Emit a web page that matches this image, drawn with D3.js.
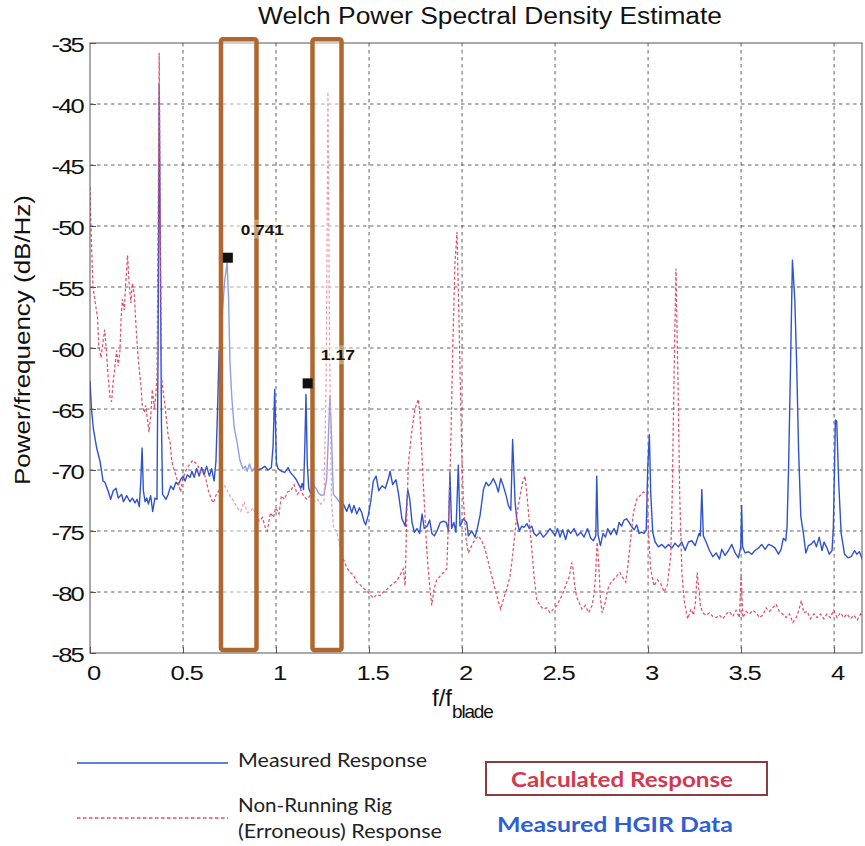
<!DOCTYPE html>
<html>
<head>
<meta charset="utf-8">
<script src="https://cdn.jsdelivr.net/npm/d3@7"></script>
<style>
  body { margin: 0; background: #fff; }
  svg { display: block; }
</style>
</head>
<body>
<svg id="chart" width="865" height="846"></svg>
<script>
// Measured blade response (solid blue): frequency ratio f/f_blade and PSD in dB/Hz
const measuredFreq = [
  0.000,0.008,0.018,0.036,0.054,0.070,0.080,0.097,0.111,0.125,0.140,0.152,0.170,0.180,0.197,0.215,0.228,0.242,0.253,0.265,
  0.273,0.280,0.287,0.296,0.305,0.314,0.326,0.337,0.349,0.360,0.366,0.372,0.378,0.384,0.390,0.409,0.420,0.434,0.448,0.462,
  0.475,0.487,0.500,0.511,0.523,0.538,0.548,0.560,0.573,0.587,0.600,0.613,0.627,0.642,0.654,0.667,0.677,0.685,0.694,0.702,
  0.712,0.724,0.737,0.745,0.752,0.762,0.775,0.789,0.806,0.822,0.835,0.845,0.857,0.871,0.885,0.903,0.921,0.939,0.957,0.975,
  0.984,0.993,1.002,1.011,1.029,1.047,1.065,1.077,1.095,1.109,1.122,1.133,1.141,1.148,1.155,1.161,1.168,1.176,1.186,1.200,
  1.215,1.229,1.244,1.258,1.272,1.281,1.290,1.299,1.308,1.326,1.344,1.362,1.380,1.394,1.407,1.419,1.434,1.448,1.461,1.473,
  1.482,1.496,1.509,1.523,1.538,1.552,1.570,1.588,1.606,1.613,1.627,1.645,1.658,1.677,1.695,1.708,1.719,1.731,1.744,1.758,
  1.772,1.785,1.797,1.812,1.826,1.838,1.851,1.865,1.883,1.901,1.915,1.927,1.935,1.944,1.956,1.967,1.980,1.989,2.007,2.025,
  2.034,2.052,2.070,2.082,2.097,2.115,2.129,2.142,2.154,2.168,2.183,2.195,2.208,2.222,2.237,2.249,2.262,2.272,2.285,2.294,
  2.308,2.321,2.333,2.348,2.362,2.375,2.387,2.401,2.419,2.437,2.455,2.473,2.487,2.500,2.513,2.527,2.541,2.557,2.570,2.584,
  2.602,2.620,2.638,2.656,2.674,2.692,2.706,2.719,2.724,2.731,2.744,2.758,2.771,2.783,2.799,2.817,2.831,2.844,2.857,2.871,
  2.885,2.898,2.910,2.925,2.939,2.952,2.964,2.978,2.990,2.998,3.007,3.014,3.025,3.038,3.056,3.074,3.092,3.110,3.128,3.145,
  3.163,3.181,3.199,3.217,3.235,3.253,3.274,3.281,3.289,3.297,3.312,3.330,3.348,3.366,3.384,3.396,3.414,3.432,3.450,3.468,
  3.486,3.498,3.503,3.508,3.522,3.540,3.557,3.575,3.593,3.611,3.629,3.647,3.665,3.683,3.701,3.715,3.727,3.740,3.747,3.755,
  3.767,3.776,3.789,3.799,3.809,3.821,3.834,3.848,3.862,3.875,3.893,3.905,3.920,3.935,3.946,3.959,3.974,3.989,3.996,4.007,
  4.014,4.025,4.038,4.056,4.074,4.092,4.110,4.122,4.136,4.154,4.163
];
const measuredPsd = [
  -62.7,-65.0,-66.6,-68.2,-69.3,-70.9,-71.0,-71.7,-72.4,-71.7,-71.5,-72.3,-72.0,-72.6,-72.1,-72.6,-72.3,-72.7,-72.4,-73.0,
  -70.9,-68.2,-71.7,-72.6,-72.3,-72.8,-72.1,-73.4,-72.3,-72.4,-60.0,-38.4,-52.0,-66.0,-72.0,-72.4,-72.0,-71.3,-71.6,-71.0,
  -71.2,-70.8,-70.5,-70.9,-70.4,-70.6,-70.1,-70.6,-69.9,-70.5,-69.8,-70.4,-69.7,-70.5,-69.9,-70.9,-69.3,-65.4,-60.2,-60.8,
  -57.0,-54.5,-53.0,-56.0,-61.0,-64.0,-66.5,-67.6,-69.2,-69.9,-69.7,-70.1,-69.5,-70.1,-69.8,-70.0,-69.9,-69.7,-70.0,-69.8,
  -68.1,-63.4,-69.4,-69.9,-70.1,-70.2,-69.8,-70.2,-70.5,-70.8,-71.2,-71.5,-71.1,-71.6,-68.0,-63.8,-69.5,-71.5,-71.9,-71.2,
  -71.5,-71.9,-72.1,-72.0,-70.8,-67.5,-63.9,-67.5,-72.0,-72.3,-72.7,-72.8,-73.4,-72.8,-73.5,-72.9,-73.6,-73.1,-73.5,-74.2,
  -74.5,-73.7,-72.6,-70.9,-70.5,-71.7,-71.3,-71.5,-70.6,-70.1,-71.2,-70.8,-71.9,-74.0,-74.6,-71.6,-72.4,-74.3,-75.1,-74.8,
  -75.2,-73.6,-74.8,-74.6,-74.1,-75.2,-75.4,-75.0,-74.3,-74.2,-74.3,-75.0,-70.2,-74.8,-74.3,-75.1,-69.6,-74.6,-74.0,-74.3,
  -75.4,-75.0,-75.5,-74.8,-73.7,-71.6,-71.0,-71.3,-71.1,-70.7,-71.2,-71.8,-70.7,-71.3,-72.1,-72.9,-73.3,-67.5,-72.6,-74.0,
  -75.0,-74.6,-74.7,-74.4,-74.8,-74.6,-75.2,-75.4,-75.1,-75.5,-75.2,-74.8,-75.1,-75.4,-74.8,-75.5,-74.9,-75.7,-74.9,-75.2,
  -74.8,-75.4,-75.1,-75.5,-74.8,-75.6,-75.8,-75.4,-70.5,-75.3,-76.2,-75.2,-75.5,-74.8,-75.3,-74.8,-75.3,-74.3,-74.6,-74.1,
  -74.0,-74.3,-74.6,-74.9,-74.5,-75.2,-75.1,-75.2,-74.9,-69.9,-67.1,-71.8,-75.1,-75.9,-76.3,-76.1,-76.4,-76.1,-76.4,-76.0,
  -76.3,-75.9,-76.6,-75.9,-75.8,-76.2,-75.2,-75.4,-71.6,-75.4,-75.9,-76.6,-77.1,-76.8,-77.3,-76.5,-77.0,-76.6,-76.1,-76.8,
  -77.2,-76.3,-72.9,-76.3,-76.8,-76.7,-76.9,-76.6,-76.4,-76.1,-76.5,-76.1,-76.2,-76.4,-76.9,-76.5,-75.6,-75.8,-74.7,-70.0,
  -60.5,-52.8,-56.1,-61.5,-68.3,-73.8,-75.1,-76.8,-76.2,-76.1,-75.8,-76.3,-75.5,-76.6,-75.9,-76.3,-76.9,-76.6,-74.7,-65.9,
  -66.0,-71.1,-75.2,-76.9,-77.2,-77.1,-76.6,-76.9,-76.7,-77.4,-78.2
];

// Non-running rig (erroneous) response (dashed red)
const rigFreq = [
  0.000,0.005,0.016,0.022,0.041,0.047,0.059,0.070,0.079,0.088,0.098,0.107,0.116,0.125,0.134,0.143,0.152,0.161,0.167,0.174,
  0.184,0.191,0.202,0.209,0.220,0.227,0.238,0.245,0.256,0.263,0.274,0.281,0.292,0.299,0.310,0.317,0.328,0.335,0.346,0.353,
  0.360,0.366,0.372,0.378,0.385,0.394,0.403,0.412,0.421,0.430,0.439,0.448,0.463,0.475,0.487,0.498,0.511,0.523,0.538,0.552,
  0.566,0.581,0.595,0.609,0.624,0.638,0.652,0.663,0.676,0.688,0.703,0.720,0.738,0.756,0.774,0.792,0.810,0.828,0.846,0.862,
  0.876,0.891,0.909,0.927,0.944,0.953,0.962,0.971,0.986,0.998,1.016,1.029,1.044,1.062,1.079,1.097,1.115,1.133,1.150,1.168,
  1.186,1.204,1.222,1.240,1.258,1.270,1.279,1.288,1.298,1.310,1.326,1.344,1.362,1.380,1.398,1.416,1.434,1.452,1.470,1.488,
  1.505,1.523,1.541,1.559,1.577,1.595,1.613,1.631,1.649,1.667,1.684,1.694,1.703,1.711,1.729,1.747,1.765,1.774,1.783,1.796,
  1.810,1.824,1.837,1.849,1.864,1.882,1.900,1.918,1.928,1.939,1.950,1.962,1.973,1.984,1.998,2.007,2.022,2.034,2.052,2.070,
  2.088,2.106,2.124,2.142,2.160,2.178,2.195,2.208,2.222,2.240,2.258,2.272,2.285,2.294,2.312,2.326,2.339,2.351,2.362,2.375,
  2.387,2.401,2.419,2.437,2.455,2.473,2.491,2.509,2.527,2.545,2.563,2.577,2.590,2.597,2.604,2.616,2.627,2.645,2.663,2.681,
  2.699,2.708,2.717,2.726,2.735,2.744,2.753,2.771,2.783,2.797,2.813,2.831,2.849,2.867,2.880,2.892,2.905,2.921,2.939,2.957,
  2.975,2.993,3.003,3.014,3.032,3.050,3.068,3.086,3.104,3.122,3.130,3.140,3.150,3.160,3.170,3.182,3.195,3.213,3.231,3.244,
  3.255,3.264,3.273,3.282,3.294,3.312,3.330,3.348,3.366,3.384,3.402,3.420,3.437,3.455,3.473,3.491,3.500,3.509,3.527,3.545,
  3.563,3.581,3.599,3.617,3.634,3.652,3.670,3.688,3.706,3.724,3.742,3.760,3.778,3.796,3.810,3.824,3.837,3.855,3.873,3.891,
  3.909,3.927,3.945,3.962,3.980,3.998,4.016,4.034,4.052,4.070,4.088,4.106,4.124,4.142,4.160
];
const rigPsd = [
  -46.8,-50.0,-55.0,-55.6,-57.6,-59.8,-60.8,-59.5,-58.5,-60.2,-62.4,-64.0,-64.4,-62.7,-61.5,-60.2,-61.5,-60.2,-57.6,-56.0,
  -56.9,-55.0,-52.4,-54.4,-56.3,-54.7,-55.6,-57.6,-60.2,-61.5,-63.1,-64.7,-65.3,-64.7,-66.0,-66.9,-65.3,-63.4,-65.0,-64.0,
  -62.4,-51.0,-35.8,-51.0,-62.4,-63.7,-64.7,-66.0,-67.3,-67.6,-69.2,-69.8,-70.5,-71.1,-71.8,-70.8,-70.2,-69.8,-69.5,-69.2,
  -69.4,-69.7,-70.2,-70.0,-70.8,-71.8,-72.4,-72.7,-72.1,-71.8,-71.5,-71.2,-71.7,-72.2,-72.6,-73.1,-73.4,-72.6,-73.5,-73.4,
  -73.1,-73.6,-74.2,-73.9,-74.8,-75.0,-74.2,-73.5,-73.9,-73.1,-73.6,-72.1,-72.4,-71.8,-71.7,-71.2,-72.0,-71.6,-72.2,-72.4,
  -72.0,-72.6,-72.4,-72.8,-72.5,-62.0,-39.0,-60.0,-72.5,-74.8,-75.0,-76.3,-77.3,-78.0,-78.4,-78.6,-79.2,-79.4,-79.7,-79.9,
  -80.2,-80.5,-80.2,-80.3,-80.0,-79.8,-79.5,-79.3,-79.1,-78.6,-78.1,-79.5,-73.7,-69.6,-66.9,-65.0,-64.2,-65.5,-68.3,-72.4,
  -76.5,-79.2,-81.1,-79.8,-79.0,-78.7,-78.4,-78.1,-73.7,-68.3,-60.0,-53.0,-50.5,-58.0,-68.3,-72.4,-75.7,-76.8,-76.2,-75.7,
  -75.4,-75.8,-76.5,-77.6,-78.7,-79.8,-80.8,-81.4,-80.6,-79.8,-78.7,-77.0,-75.1,-73.7,-72.1,-71.0,-70.5,-72.4,-74.3,-76.5,
  -78.7,-80.6,-81.1,-81.4,-81.3,-81.7,-81.4,-81.1,-80.6,-80.0,-79.2,-78.7,-77.6,-78.1,-79.3,-80.4,-80.8,-81.4,-81.1,-81.7,
  -81.1,-80.3,-78.9,-75.9,-77.8,-80.6,-81.7,-80.8,-79.8,-79.3,-79.0,-78.7,-78.4,-78.9,-79.2,-77.8,-75.9,-73.5,-72.4,-72.1,
  -71.8,-72.0,-75.4,-78.1,-79.5,-79.0,-79.3,-80.0,-79.4,-77.0,-72.0,-62.0,-53.5,-62.0,-72.0,-78.5,-80.8,-82.2,-81.4,-81.9,
  -80.8,-78.4,-79.8,-81.2,-81.7,-81.9,-81.7,-82.0,-82.1,-81.9,-82.2,-81.8,-81.6,-82.0,-81.5,-82.1,-78.5,-82.1,-81.6,-81.8,
  -81.5,-81.7,-82.1,-81.9,-81.3,-81.6,-81.3,-81.0,-81.6,-81.8,-82.1,-81.8,-82.5,-82.1,-81.5,-80.7,-81.7,-81.6,-82.2,-81.8,
  -82.1,-81.8,-82.2,-81.8,-82.1,-81.5,-82.1,-81.7,-82.1,-81.8,-82.2,-81.9,-82.3,-81.8,-82.0
];

// Axis ticks
const xTickValues = [0, 0.5, 1, 1.5, 2, 2.5, 3, 3.5, 4];
const xTickLabels = ["0", "0.5", "1", "1.5", "2", "2.5", "3", "3.5", "4"];
const yTickValues = [-35, -40, -45, -50, -55, -60, -65, -70, -75, -80, -85];

// Frequency bands of the calculated response (highlight boxes)
const calcBandStart = [0.704, 1.196];
const calcBandEnd = [0.895, 1.352];
const calcBandPsdRange = [-34.7, -84.75];

// Data cursor tips
const tipFreq = [0.741, 1.17];
const tipPsd = [-52.6, -62.9];
const tipLabels = ["0.741", "1.17"];

// Legend entries
const legendLines = [
  { lines: ["Measured Response"], color: "#2f52cf", dash: null },
  { lines: ["Non-Running Rig", "(Erroneous) Response"], color: "#e2506b", dash: "3,2.2" }
];

const svg = d3.select("#chart");
const x = d3.scaleLinear().domain([0, 4.15]).range([90, 862]);
const y = d3.scaleLinear().domain([-85, -35]).range([653, 43]);

const axisFont = "'Liberation Sans', Arial, Helvetica, sans-serif";
const legendFont = "Lato, 'Open Sans', sans-serif";

// clip for the traces
svg.append("clipPath").attr("id", "plotClip")
  .append("rect").attr("x", 90).attr("y", 43).attr("width", 772).attr("height", 610);

// grid
const grid = svg.append("g").attr("stroke", "#3a3a3a").attr("stroke-width", 0.8).attr("stroke-dasharray", "3.5,3.5");
grid.selectAll("line.gx").data(xTickValues.slice(1)).join("line")
  .attr("x1", d => x(d)).attr("x2", d => x(d)).attr("y1", y(-35)).attr("y2", y(-85));
grid.selectAll("line.gy").data(yTickValues.slice(1, -1)).join("line")
  .attr("y1", d => y(d)).attr("y2", d => y(d)).attr("x1", x(0)).attr("x2", 862);

// traces
const line = d3.line().x(d => x(d[0])).y(d => y(d[1]));
const measured = measuredFreq.map((f, i) => [f, measuredPsd[i]]);
const rig = rigFreq.map((f, i) => [f, rigPsd[i]]);
const traces = svg.append("g").attr("clip-path", "url(#plotClip)");
traces.append("path").datum(measured).attr("d", line)
  .attr("fill", "none").attr("stroke", legendLines[0].color).attr("stroke-width", 1.4)
  .attr("stroke-linejoin", "round");
traces.append("path").datum(rig).attr("d", line)
  .attr("fill", "none").attr("stroke", legendLines[1].color).attr("stroke-width", 1.25)
  .attr("stroke-dasharray", legendLines[1].dash);

// axes box
svg.append("rect").attr("x", x(0)).attr("y", y(-35)).attr("width", 862 - x(0)).attr("height", y(-85) - y(-35))
  .attr("fill", "none").attr("stroke", "#555").attr("stroke-width", 1);

// x axis
const xAxis = d3.axisBottom(x).tickValues(xTickValues).tickFormat((d, i) => xTickLabels[i])
  .tickSizeInner(-6).tickSizeOuter(0).tickPadding(0);
const gx = svg.append("g").attr("transform", `translate(0,${y(-85)})`).call(xAxis);
gx.select(".domain").remove();
gx.selectAll(".tick line").attr("stroke", "#555");
gx.selectAll(".tick text").text(null);
gx.selectAll(".tick").append("text")
  .attr("transform", "translate(3,27) scale(1.22,1)")
  .attr("text-anchor", "middle").attr("fill", "#111")
  .style("font-family", axisFont).style("font-size", "21px").style("letter-spacing", "-1px")
  .text((d, i) => xTickLabels[i]);

// y axis
const yAxis = d3.axisLeft(y).tickValues(yTickValues).tickSizeInner(-6).tickSizeOuter(0).tickPadding(0);
const gy = svg.append("g").attr("transform", `translate(${x(0)},0)`).call(yAxis);
gy.select(".domain").remove();
gy.selectAll(".tick line").attr("stroke", "#555");
gy.selectAll(".tick text").text(null);
gy.selectAll(".tick").append("text")
  .attr("transform", "translate(-7,8) scale(1.22,1)")
  .attr("text-anchor", "end").attr("fill", "#111")
  .style("font-family", axisFont).style("font-size", "21px").style("letter-spacing", "-1.5px")
  .text(d => d);

// calculated-response bands
svg.append("g").selectAll("rect").data(calcBandStart).join("rect")
  .attr("x", d => x(d))
  .attr("y", y(calcBandPsdRange[0]))
  .attr("width", (d, i) => x(calcBandEnd[i]) - x(d))
  .attr("height", y(calcBandPsdRange[1]) - y(calcBandPsdRange[0]))
  .attr("rx", 2)
  .attr("fill", "#fff").attr("fill-opacity", 0.45)
  .attr("stroke", "#b0672f").attr("stroke-width", 4.5);

// data tips
const tips = svg.append("g");
tips.selectAll("rect.tipbg").data(tipFreq).join("rect")
  .attr("x", d => x(d) + 10).attr("y", (d, i) => y(tipPsd[i]) - 38)
  .attr("width", (d, i) => tipLabels[i].length * 9 + 6).attr("height", 19)
  .attr("fill", "#fffbe6").attr("fill-opacity", 0.35);
tips.selectAll("rect.marker").data(tipFreq).join("rect")
  .attr("x", d => x(d) - 5).attr("y", (d, i) => y(tipPsd[i]) - 5)
  .attr("width", 10).attr("height", 10).attr("fill", "#111");
tips.selectAll("text").data(tipFreq).join("text")
  .attr("x", d => x(d) + 13).attr("y", (d, i) => y(tipPsd[i]) - 23)
  .attr("textLength", (d, i) => tipLabels[i].length * 8.6)
  .attr("lengthAdjust", "spacingAndGlyphs")
  .attr("fill", "#151515")
  .style("font-family", axisFont).style("font-size", "15px").style("font-weight", "bold")
  .text((d, i) => tipLabels[i]);

// title
svg.append("text").attr("x", 490).attr("y", 24).attr("text-anchor", "middle")
  .attr("textLength", 464).attr("lengthAdjust", "spacingAndGlyphs")
  .style("font-family", axisFont).style("font-size", "23px").attr("fill", "#111")
  .text("Welch Power Spectral Density Estimate");

// y label
svg.append("text").attr("transform", "translate(30,340) rotate(-90)").attr("text-anchor", "middle")
  .attr("textLength", 290).attr("lengthAdjust", "spacingAndGlyphs")
  .style("font-family", axisFont).style("font-size", "22px").attr("fill", "#111")
  .text("Power/frequency (dB/Hz)");

// x label
const xl = svg.append("text").attr("x", 432).attr("y", 706)
  .style("font-family", axisFont).style("font-size", "24px").attr("fill", "#111");
xl.append("tspan").text("f/f");
xl.append("tspan").attr("dy", 12).style("font-size", "19px").style("letter-spacing", "-1.2px").text("blade");

// legend
const lg = svg.append("g");
lg.append("line").attr("x1", 77).attr("x2", 228).attr("y1", 763).attr("y2", 763)
  .attr("stroke", legendLines[0].color).attr("stroke-width", 1.6);
lg.append("line").attr("x1", 77).attr("x2", 228).attr("y1", 818).attr("y2", 818)
  .attr("stroke", legendLines[1].color).attr("stroke-width", 1.4).attr("stroke-dasharray", "3.5,2.5");
const legendText = (tx, ty, str, w) => lg.append("text").attr("x", tx).attr("y", ty)
  .attr("textLength", w).attr("lengthAdjust", "spacingAndGlyphs")
  .style("font-family", legendFont).style("font-size", "19px").attr("fill", "#222").text(str);
legendText(238, 767, legendLines[0].lines[0], 189);
legendText(238, 812, legendLines[1].lines[0], 154);
legendText(238, 838, legendLines[1].lines[1], 204);

lg.append("rect").attr("x", 486).attr("y", 762).attr("width", 281).attr("height", 33)
  .attr("fill", "#fff").attr("stroke", "#8b3d3d").attr("stroke-width", 2);
lg.append("text").attr("x", 511).attr("y", 787).attr("textLength", 222).attr("lengthAdjust", "spacingAndGlyphs")
  .style("font-family", legendFont).style("font-size", "20px").style("font-weight", "bold")
  .attr("fill", "#d2394f").text("Calculated Response");
lg.append("text").attr("x", 497).attr("y", 832).attr("textLength", 236).attr("lengthAdjust", "spacingAndGlyphs")
  .style("font-family", legendFont).style("font-size", "20px").style("font-weight", "bold")
  .attr("fill", "#2f5fd6").text("Measured HGIR Data");
</script>
</body>
</html>
